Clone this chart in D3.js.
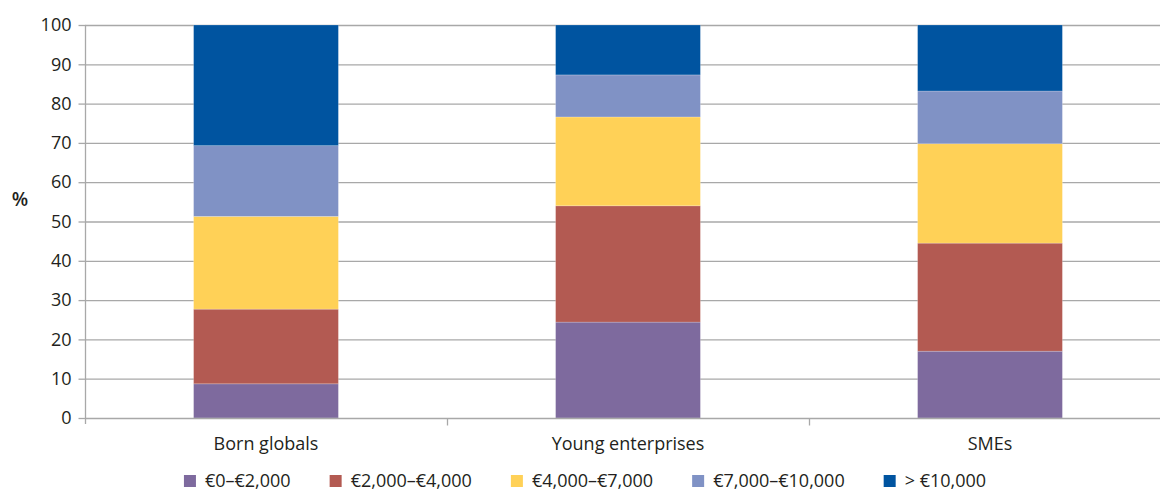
<!DOCTYPE html>
<html><head><meta charset="utf-8">
<script src="https://cdn.jsdelivr.net/npm/d3@7"></script>
<style>
html,body{margin:0;padding:0;background:#fff;}
text{font-family:"Open Sans","Noto Sans",sans-serif;fill:#231f20;}
</style></head>
<body><svg id="c" width="1160" height="491"></svg>
<script>
const categories = ["Born globals", "Young enterprises", "SMEs"];
const seriesNames = ["€0–€2,000", "€2,000–€4,000", "€4,000–€7,000", "€7,000–€10,000", "> €10,000"];
const s0_2k   = [8.7, 24.4, 17.0];
const s2_4k   = [19.0, 29.6, 27.5];
const s4_7k   = [23.6, 22.6, 25.3];
const s7_10k  = [18.0, 10.7, 13.4];
const s10kplus= [30.7, 12.7, 16.8];
const colors = ["#7e6a9e", "#b35a52", "#ffd157", "#8092c5", "#0054a0"];
const yTicks = [0,10,20,30,40,50,60,70,80,90,100];

const series = [s0_2k, s2_4k, s4_7k, s7_10k, s10kplus];
const rows = categories.map((c,i)=>{const r={cat:c}; seriesNames.forEach((n,j)=>r[n]=series[j][i]); return r;});
const stacked = d3.stack().keys(seriesNames)(rows);

const svg = d3.select("#c");
const x0 = 85, x1 = 1171, yTop = 25, yBot = 418;
const x = d3.scaleBand().domain(categories).range([x0, x1]).paddingInner(0.6).paddingOuter(0.3);
const y = d3.scaleLinear().domain([0,100]).range([yBot, yTop]);
const FS = "18px";

// gridlines
svg.append("g").selectAll("line").data(yTicks.filter(t=>t>0)).join("line")
  .attr("x1", x0).attr("x2", 1160).attr("y1", d=>y(d)+0.5).attr("y2", d=>y(d)+0.5)
  .attr("stroke", "#a8a8a8").attr("stroke-width", 1.3);

// bars
svg.append("g").selectAll("g").data(stacked).join("g")
  .attr("fill", (d,i)=>colors[i])
  .selectAll("rect").data(d=>d.map(v=>({v, cat:v.data.cat}))).join("rect")
  .attr("x", d=>x(d.cat)).attr("width", x.bandwidth())
  .attr("y", d=>y(d.v[1])).attr("height", d=>y(d.v[0])-y(d.v[1]))
  .attr("stroke", "rgba(255,255,255,0.25)").attr("stroke-width", 0.8);

// y axis
const yAxis = d3.axisLeft(y).tickValues(yTicks).tickSize(7).tickPadding(7);
const gy = svg.append("g").attr("transform", `translate(${x0+0.5},0)`).call(yAxis);
gy.select(".domain").attr("stroke", "#a8a8a8").attr("stroke-width",1.3).attr("d", `M0,${yTop}V${yBot+6}`);
gy.selectAll(".tick line").attr("stroke", "#a8a8a8").attr("stroke-width",1.3);
gy.selectAll(".tick text").style("font-size",FS).attr("fill","#231f20")
  .style("font-family",'"Open Sans","Noto Sans",sans-serif');

// x axis
const gx = svg.append("g").attr("transform", `translate(0,${yBot+0.5})`);
gx.append("line").attr("x1", x0).attr("x2", 1160).attr("stroke", "#a8a8a8").attr("stroke-width",1.3);
const bounds = categories.slice(1).map(c => x(c) - x.step()*x.paddingInner()/2);
gx.selectAll("line.sep").data(bounds).join("line").attr("class","sep")
  .attr("x1", d=>Math.round(d)+0.5).attr("x2", d=>Math.round(d)+0.5).attr("y1",0).attr("y2",7)
  .attr("stroke", "#a8a8a8").attr("stroke-width",1.3);
gx.selectAll("text").data(categories).join("text")
  .attr("x", d=>x(d)+x.bandwidth()/2).attr("y", 31)
  .attr("text-anchor","middle").style("font-size",FS).text(d=>d);

// y label
svg.append("text").attr("x", 20).attr("y", 206).attr("text-anchor","middle")
  .style("font-size","19px").style("font-weight","600").text("%");

// legend
const lg = svg.append("g");
const items = lg.selectAll("g").data(seriesNames).join("g");
items.append("rect").attr("width",12).attr("height",12).attr("y",-12).attr("fill",(d,i)=>colors[i]);
items.append("text").attr("x",21).attr("y",0).style("font-size",FS).text(d=>d);
let cx = 0; const gap = 39;
items.each(function(){ const w = this.getBBox().width; d3.select(this).attr("data-x", cx); cx += w + gap; });
const total = cx - gap;
const start = 585 - total/2;
items.attr("transform", function(){ return `translate(${start + (+this.getAttribute("data-x"))},487)`; });
</script></body></html>
